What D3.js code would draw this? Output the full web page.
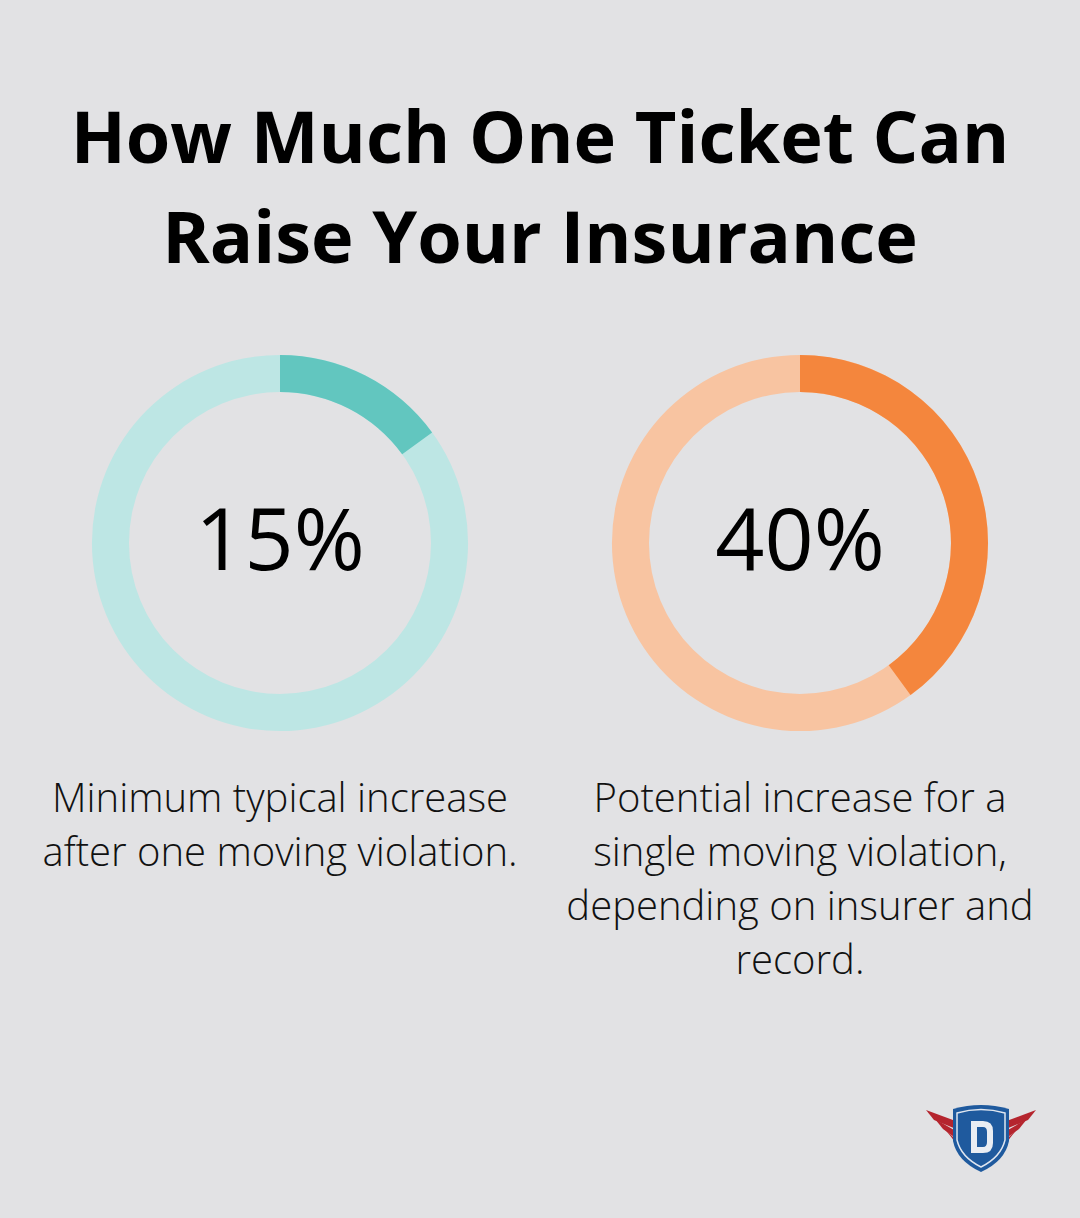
<!DOCTYPE html>
<html>
<head>
<meta charset="utf-8">
<script src="https://cdn.jsdelivr.net/npm/d3@7"></script>
<style>
  body { margin: 0; background: #e2e2e4; }
  svg { display: block; }
</style>
</head>
<body>
<div id="chart"></div>
<script>
// data
var titleLines = ["How Much One Ticket Can", "Raise Your Insurance"];
var values = [15, 40];
var labels = ["15%", "40%"];
var captions = [
  ["Minimum typical increase", "after one moving violation."],
  ["Potential increase for a", "single moving violation,", "depending on insurer and", "record."]
];
var mainColors = ["#62c6bf", "#f4863d"];
var trackColors = ["#bde6e4", "#f8c4a1"];

var width = 1080, height = 1218;

var svg = d3.select("#chart").append("svg")
  .attr("width", width)
  .attr("height", height);

svg.append("rect").attr("width", width).attr("height", height).attr("fill", "#e2e2e4");

// title
svg.append("g").selectAll("text")
  .data(titleLines)
  .enter().append("text")
    .attr("x", width / 2)
    .attr("y", function(d, i) { return 163 + i * 100; })
    .attr("text-anchor", "middle")
    .style("font-family", "'Open Sans', sans-serif")
    .style("font-weight", 700)
    .style("font-size", "72px")
    .style("fill", "#000")
    .text(function(d) { return d; });

var x = d3.scalePoint().domain([0, 1]).range([280, 800]);
var angle = d3.scaleLinear().domain([0, 100]).range([0, 2 * Math.PI]);
var arc = d3.arc().innerRadius(151).outerRadius(188);

var donut = svg.selectAll(".donut")
  .data(values)
  .enter().append("g")
    .attr("class", "donut")
    .attr("transform", function(d, i) { return "translate(" + x(i) + ",543)"; });

donut.append("path")
  .attr("d", arc({startAngle: 0, endAngle: 2 * Math.PI}))
  .attr("fill", function(d, i) { return trackColors[i]; });

donut.append("path")
  .attr("d", function(d) { return arc({startAngle: 0, endAngle: angle(d)}); })
  .attr("fill", function(d, i) { return mainColors[i]; });

donut.append("text")
  .attr("y", 27)
  .attr("text-anchor", "middle")
  .style("font-family", "'Open Sans', sans-serif")
  .style("font-weight", 500)
  .style("font-size", "86px")
  .style("fill", "#000")
  .text(function(d, i) { return labels[i]; });

// captions
donut.each(function(d, i) {
  d3.select(this).selectAll(".cap")
    .data(captions[i])
    .enter().append("text")
      .attr("class", "cap")
      .attr("y", function(c, j) { return 269 + j * 54; })
      .attr("text-anchor", "middle")
      .style("font-family", "'Open Sans', sans-serif")
      .style("font-weight", 300)
      .style("font-size", "40px")
      .style("fill", "#111")
      .text(function(c) { return c; });
});

// logo
var logo = svg.append("g").attr("transform", "translate(981,1137)");
[-1, 1].forEach(function(s) {
  for (var k = 0; k < 3; k++) {
    logo.append("path")
      .attr("d", "M" + (s * 20) + "," + (-14 + k * 11) +
                 " L" + (s * (55 - k * 9)) + "," + (-27 + k * 9) +
                 " L" + (s * (47 - k * 9)) + "," + (-17 + k * 9) +
                 " L" + (s * 20) + "," + (-6 + k * 11) + "Z")
      .attr("fill", "#b5252e");
  }
});
logo.append("path")
  .attr("d", "M-28,-28 Q0,-36 28,-28 L28,4 Q24,24 0,35 Q-24,24 -28,4Z")
  .attr("fill", "#1f5a9e");
logo.append("path")
  .attr("d", "M-24,-24 Q0,-31 24,-24 L24,3 Q20,20 0,30 Q-20,20 -24,3Z")
  .attr("fill", "none").attr("stroke", "#dfe6f0").attr("stroke-width", 1.5);
logo.append("path")
  .attr("d", "M-10,-16 L2,-16 Q12,-16 12,-6 L12,6 Q12,16 2,16 L-10,16Z M-4,-10 L-4,10 L2,10 Q6,10 6,5 L6,-5 Q6,-10 2,-10Z")
  .attr("fill", "#e9edf3").attr("fill-rule", "evenodd");
</script>
</body>
</html>
